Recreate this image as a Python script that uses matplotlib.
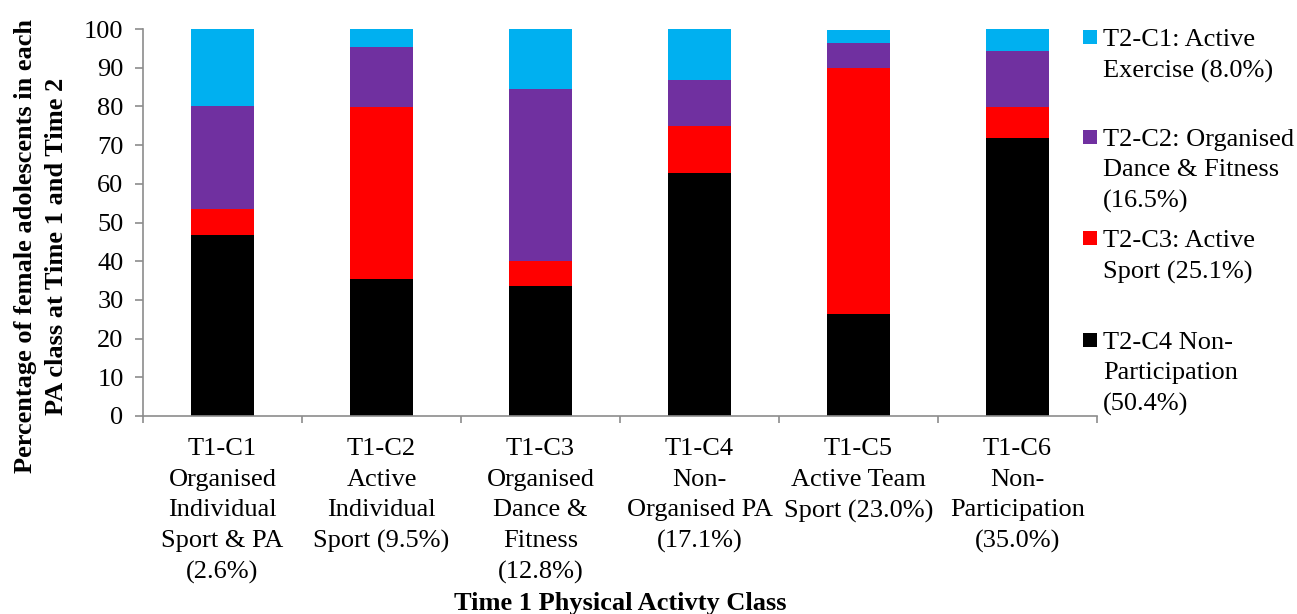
import matplotlib
matplotlib.use("Agg")
import matplotlib.pyplot as plt
from matplotlib.patches import Rectangle
import numpy as np

plt.rcParams['font.family'] = 'serif'
plt.rcParams['font.serif'] = ['Liberation Serif', 'DejaVu Serif']
plt.rcParams['font.size'] = 19

categories = [
    "T1-C1\nOrganised\nIndividual\nSport & PA\n(2.6%)",
    "T1-C2\nActive\nIndividual\nSport (9.5%)",
    "T1-C3\nOrganised\nDance &\nFitness\n(12.8%)",
    "T1-C4\nNon-\nOrganised PA\n(17.1%)",
    "T1-C5\nActive Team\nSport (23.0%)",
    "T1-C6\nNon-\nParticipation\n(35.0%)",
]
non_participation = [46.7, 35.5, 33.7, 62.8, 26.4, 71.9]
active_sport = [6.7, 44.4, 6.3, 12.2, 63.6, 7.9]
organised_dance = [26.7, 15.5, 44.6, 11.8, 6.4, 14.5]
active_exercise = [20.0, 4.5, 15.4, 13.2, 3.3, 5.7]

series_names = [
    "T2-C1: Active\nExercise (8.0%)",
    "T2-C2: Organised\nDance & Fitness\n(16.5%)",
    "T2-C3: Active\nSport (25.1%)",
    "T2-C4 Non-\nParticipation\n(50.4%)",
]
colors = ["#00B0F0", "#7030A0", "#FF0000", "#000000"]

W, H = 1297, 614
fig = plt.figure(figsize=(W / 100, H / 100), dpi=100)
ax = fig.add_axes([143 / W, (H - 416) / H, 954 / W, 387 / H])

x = np.arange(len(categories))
stack = [non_participation, active_sport, organised_dance, active_exercise]
stack_colors = colors[::-1]
bottom = np.zeros(len(categories))
for vals, c in zip(stack, stack_colors):
    ax.bar(x, vals, 0.4, bottom=bottom, color=c, linewidth=0)
    bottom += np.array(vals)

ax.set_xlim(-0.5, len(categories) - 0.5)
ax.set_ylim(0, 100)
ax.set_yticks(np.arange(0, 101, 10))

axis_color = "#8C8C8C"
for s in ["top", "right"]:
    ax.spines[s].set_visible(False)
for s in ["left", "bottom"]:
    ax.spines[s].set_color(axis_color)
    ax.spines[s].set_linewidth(1.2)

ax.tick_params(axis='y', direction='out', length=6, width=1.2, color=axis_color, pad=8)
ax.set_xticks(x)
ax.set_xticklabels(categories, ha='center')
ax.set_xticks(np.arange(-0.5, len(categories), 1), minor=True)
ax.tick_params(axis='x', which='major', length=0, pad=16)
ax.tick_params(axis='x', which='minor', length=5, width=1.2, color=axis_color)
for lbl in ax.get_xticklabels():
    lbl.set_linespacing(1.5)

fig.text(620 / W, (H - 610) / H, "Time 1 Physical Activty Class", ha='center', va='baseline',
         fontweight='bold')
fig.text(41 / W, (H - 246) / H,
         "Percentage of female adolescents in each\nPA class at Time 1 and Time 2",
         rotation=90, ha='center', va='center', fontweight='bold', linespacing=1.45)

marker_y = [37, 137, 238, 340]
for name, c, my in zip(series_names, colors, marker_y):
    fig.add_artist(Rectangle(((1083) / W, (H - my - 7) / H), 14 / W, 14 / H,
                             transform=fig.transFigure, color=c, linewidth=0))
    fig.text(1103 / W, (H - my + 8) / H, name, ha='left', va='top', linespacing=1.5)

fig.savefig("out.png", dpi=100)
